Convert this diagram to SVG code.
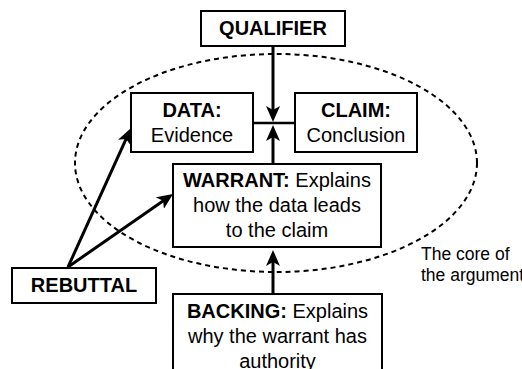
<svg xmlns="http://www.w3.org/2000/svg" width="522" height="369" viewBox="0 0 522 369">
<style>
.box{fill:#fff;stroke:#000;stroke-width:2}
.t{font-family:"Liberation Sans",Arial,sans-serif;font-size:20px;fill:#000;text-anchor:middle}
.b{font-weight:bold}
.edge{stroke:#000;stroke-width:3;fill:none}
.note{font-family:"Liberation Sans",Arial,sans-serif;font-size:17.5px;fill:#000}
</style>
<defs>
<marker id="ah" viewBox="0 0 16 14" refX="6" refY="7" markerWidth="16" markerHeight="14" markerUnits="userSpaceOnUse" orient="auto">
<path d="M0,0 L16,7 L0,14 L4,7 z" fill="#000"/>
</marker>
</defs>
<rect width="522" height="369" fill="#fff"/>
<g id="core">
<ellipse cx="276" cy="163" rx="201" ry="109" fill="none" stroke="#000" stroke-width="2" stroke-dasharray="5,4"/>
<text class="note" x="421" y="260">The core of</text>
<text class="note" x="421" y="281">the argument</text>
</g>
<g id="connectors">
<line class="edge" x1="273" y1="46" x2="273" y2="112" marker-end="url(#ah)"/>
<line class="edge" x1="273" y1="164" x2="273" y2="135" marker-end="url(#ah)"/>
<line x1="253" y1="123" x2="295" y2="123" stroke="#000" stroke-width="2.5"/>
<line class="edge" x1="273" y1="294" x2="273" y2="260" marker-end="url(#ah)"/>
<line class="edge" x1="68" y1="267" x2="126.9" y2="137.1" marker-end="url(#ah)"/>
<line class="edge" x1="68" y1="267" x2="164.8" y2="199.7" marker-end="url(#ah)"/>
</g>
<g id="qualifier">
<rect class="box" x="201" y="11" width="144" height="35"/>
<text class="t b" x="273" y="35">QUALIFIER</text>
</g>
<g id="data">
<rect class="box" x="131" y="93" width="122" height="59"/>
<text class="t b" x="192" y="117">DATA:</text>
<text class="t" x="192" y="142">Evidence</text>
</g>
<g id="claim">
<rect class="box" x="295" y="93" width="122" height="59"/>
<text class="t b" x="356" y="117">CLAIM:</text>
<text class="t" x="356" y="142">Conclusion</text>
</g>
<g id="warrant">
<rect class="box" x="173" y="164" width="208" height="83"/>
<text class="t" x="277" y="187"><tspan class="b">WARRANT:</tspan> Explains</text>
<text class="t" x="277" y="212">how the data leads</text>
<text class="t" x="277" y="237">to the claim</text>
</g>
<g id="rebuttal">
<rect class="box" x="12" y="268" width="144" height="35"/>
<text class="t b" x="84" y="292">REBUTTAL</text>
</g>
<g id="backing">
<rect class="box" x="173" y="294" width="209" height="85"/>
<text class="t" x="277.5" y="318"><tspan class="b">BACKING:</tspan> Explains</text>
<text class="t" x="277.5" y="343">why the warrant has</text>
<text class="t" x="277.5" y="368">authority</text>
</g>
</svg>
